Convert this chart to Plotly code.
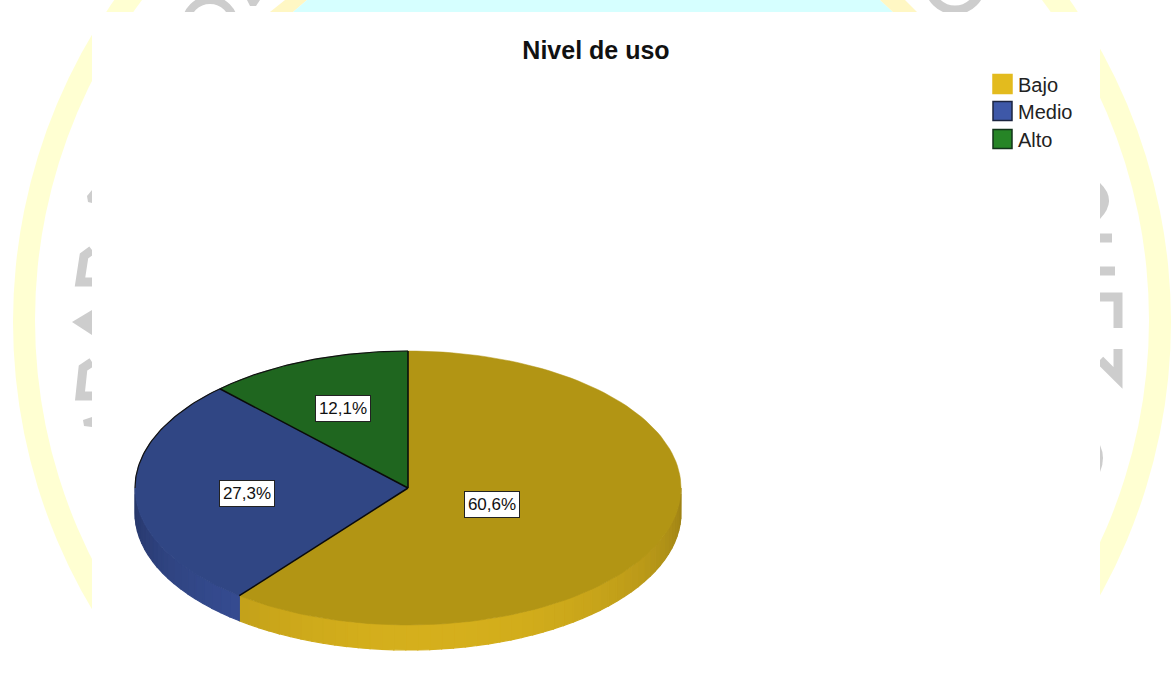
import numpy as np
import plotly.graph_objects as go

# ---- data ----
categories = ["Bajo", "Medio", "Alto"]
percent_values = [60.6, 27.3, 12.1]
percent_labels = ["60,6%", "27,3%", "12,1%"]
chart_title = "Nivel de uso"

# ---- styling ----
W, H = 1171, 694
CX, CY, RX, RY, DEPTH = 408, 488, 273, 137, 25
TOP_COLORS = ["#b29514", "#304684", "#1f661f"]
LEGEND_COLORS = ["#e3bb1e", "#3e58a8", "#268526"]
SIDE_RGB = [(227, 187, 30), (62, 88, 168), (38, 133, 38)]
LABEL_RADIUS = [0.325, 0.59, 0.64]
LEGEND_Y = [84, 111, 139]
FONT = "Liberation Sans"
GRAY = "#cdcdcd"


def pt(theta_deg, r=1.0, dy=0.0):
    t = np.radians(theta_deg)
    return CX + RX * r * np.sin(t), CY - RY * r * np.cos(t) + dy


fig = go.Figure()

# slice boundaries, clockwise from 12 o'clock, derived from the values
total = sum(percent_values)
edges = np.concatenate([[0], np.cumsum(percent_values) / total * 360])

# side wall
for i, rgb in enumerate(SIDE_RGB):
    a0, a1 = max(edges[i], 90), min(edges[i + 1], 270)
    if a1 <= a0:
        continue
    n = max(int((a1 - a0) / 2.5), 1)
    bounds = np.linspace(a0, a1, n + 1)
    for s0, s1 in zip(bounds[:-1], bounds[1:]):
        arc = np.linspace(s0, s1, 4)
        xt, yt = pt(arc)
        xb, yb = pt(arc[::-1], dy=DEPTH)
        b = 0.655 + 0.285 * np.cos(np.radians((s0 + s1) / 2 - 175))
        col = "rgb(%d,%d,%d)" % tuple(int(c * b) for c in rgb)
        fig.add_trace(go.Scatter(
            x=np.r_[xt, xb, xt[0]], y=np.r_[yt, yb, yt[0]], mode="lines",
            fill="toself", fillcolor=col, line=dict(color=col, width=1.2),
            hoverinfo="skip", showlegend=False))

# top face
for i, name in enumerate(categories):
    arc = np.linspace(edges[i], edges[i + 1], 120)
    xa, ya = pt(arc)
    fig.add_trace(go.Scatter(
        x=np.r_[CX, xa, CX], y=np.r_[CY, ya, CY], mode="lines", name=name,
        fill="toself", fillcolor=TOP_COLORS[i],
        line=dict(color=TOP_COLORS[i], width=0.5), showlegend=False,
        hoverinfo="name"))

# outlines
for e in edges[1:]:
    xe, ye = pt(e)
    fig.add_trace(go.Scatter(x=[CX, xe], y=[CY, ye], mode="lines",
                             line=dict(color="#0a0a0a", width=1.5),
                             hoverinfo="skip", showlegend=False))
arc = np.linspace(270, 360, 90)
xa, ya = pt(arc)
fig.add_trace(go.Scatter(x=xa, y=ya, mode="lines",
                         line=dict(color="#111111", width=1.2),
                         hoverinfo="skip", showlegend=False))

# legend swatches
fig.add_trace(go.Scatter(
    x=[1002.5] * 3, y=LEGEND_Y, mode="markers", showlegend=False, hoverinfo="skip",
    marker=dict(symbol="square", size=19, color=LEGEND_COLORS,
                line=dict(color=["#e3bb1e", "#1c2440", "#12331a"], width=1.5))))

annotations = []
for name, y in zip(categories, LEGEND_Y):
    annotations.append(dict(x=1016, y=y + 1, xref="x", yref="y", text=name, showarrow=False,
                            xanchor="left", yanchor="middle",
                            font=dict(family=FONT, size=20, color="#222222")))

# value labels
mids = (edges[:-1] + edges[1:]) / 2
for lab, m, r in zip(percent_labels, mids, LABEL_RADIUS):
    lx, ly = pt(m, r, dy=1.5)
    annotations.append(dict(x=lx, y=ly, xref="x", yref="y", text=lab, showarrow=False,
                            bgcolor="white", bordercolor="#222222", borderwidth=1,
                            width=54, height=25, borderpad=0,
                            font=dict(family=FONT, size=17, color="#111111")))

# backdrop picture behind the chart panel
shapes = [
    dict(type="circle", x0=13, x1=1171, y0=-248, y1=892, fillcolor="#ffffd2", line_width=0, layer="below"),
    dict(type="circle", x0=35, x1=1149, y0=-223, y1=863, fillcolor="white", line_width=0, layer="below"),
    dict(type="path", path="M285,0 L307,0 L293,12 L270,12 Z", fillcolor="#fff7c4", line_width=0, layer="below"),
    dict(type="path", path="M307,0 L880,0 L893,12 L293,12 Z", fillcolor="#d6ffff", line_width=0, layer="below"),
    dict(type="path", path="M880,0 L905,0 L917,12 L893,12 Z", fillcolor="#fff7c4", line_width=0, layer="below"),
]
stroke = dict(type="path", line=dict(color=GRAY, width=9), layer="below")
for p in [
    "M92,250 L84,256 L80,282 L92,282",
    "M92,362 L83,368 L80,396 L92,396",
    "M1100,238 L1112,238",
    "M1100,271 L1115,271",
    "M1100,297 L1118,297 L1118,328",
    "M1118,349 L1118,378 L1100,360",
]:
    shapes.append(dict(stroke, path=p))
for p in [
    "M92,190 L87,196 L88,202 L92,203 Z",
    "M92,310 L72,322 L92,335 Z",
    "M92,417 L83,420 L84,426 L92,427 Z",
    "M1100,183 Q1118,200 1100,219 Z",
    "M1100,445 Q1106,458 1100,472 Z",
]:
    shapes.append(dict(type="path", path=p, fillcolor=GRAY, line_width=0, layer="below"))
shapes.append(dict(type="circle", x0=186, x1=234, y0=0, y1=48,
                   line=dict(color=GRAY, width=8), layer="below"))
shapes.append(dict(type="path", path="M247,0 L260,0 L256,6 L250,6 Z", fillcolor=GRAY, line_width=0, layer="below"))
shapes.append(dict(type="circle", x0=929, x1=981, y0=-42, y1=10,
                   line=dict(color=GRAY, width=9), layer="below"))
shapes.append(dict(type="rect", x0=92, x1=1100, y0=12, y1=H, fillcolor="white", line_width=0, layer="below"))

fig.update_layout(
    width=W, height=H, margin=dict(l=0, r=0, t=0, b=0),
    paper_bgcolor="white", plot_bgcolor="white", showlegend=False,
    title=dict(text="<b>%s</b>" % chart_title, x=596 / W, y=1 - 50 / H,
               xanchor="center", yanchor="middle",
               font=dict(family=FONT, size=25, color="#111111")),
    xaxis=dict(range=[0, W], visible=False, fixedrange=True),
    yaxis=dict(range=[H, 0], visible=False, fixedrange=True),
    shapes=shapes, annotations=annotations,
)

fig.write_html("out.html", config={"displayModeBar": False},
               post_script="document.body.style.margin='0';document.documentElement.style.overflow='hidden';")
